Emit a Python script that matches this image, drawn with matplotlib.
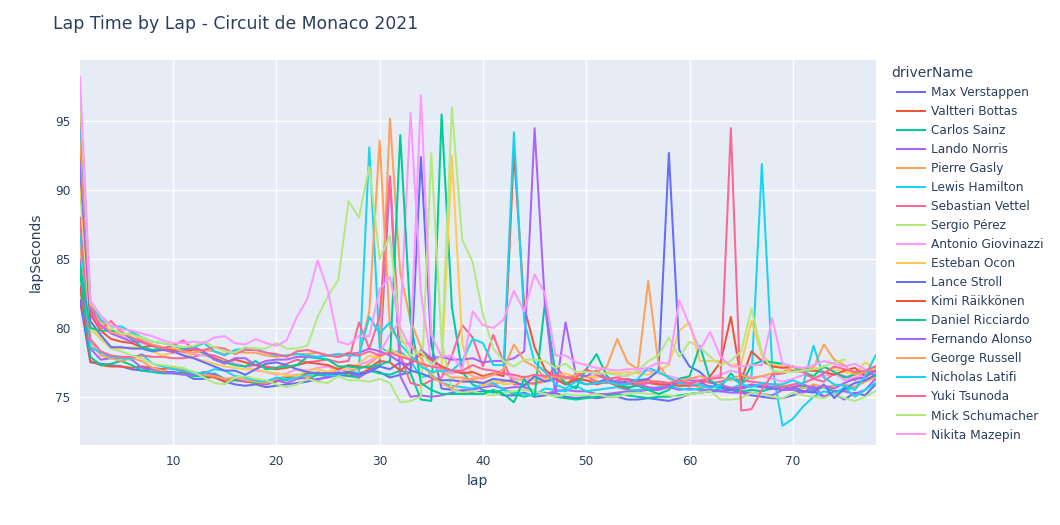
import matplotlib
matplotlib.use("Agg")
import matplotlib.pyplot as plt

# lap times in seconds, one row per ten laps
verstappen = [82.0,77.5,77.4,77.3,77.2,77.0,76.9,77.0,76.8,76.8,
    76.7,76.3,76.3,76.5,76.1,75.9,75.8,75.9,75.7,75.8,
    75.9,76.0,76.1,76.3,76.4,76.6,76.5,76.7,76.9,76.8,
    76.4,76.6,76.8,92.4,78.8,75.6,75.5,75.4,75.3,75.4,
    75.4,75.1,75.1,75.3,75.0,75.1,75.3,75.0,74.9,75.0,
    74.9,75.0,75.0,74.8,74.8,74.9,74.8,74.7,74.9,75.2,
    75.3,75.4,75.4,75.5,75.3,75.1,75.0,74.9,74.9,75.1,
    75.4,75.4,75.0,75.2,74.8,75.3,75.1,75.9]
bottas = [83.0,77.6,77.3,77.2,77.2,77.1,77.2,77.1,77.0,77.1,
    76.8,76.6,76.5,76.4,76.1,76.2,76.1,76.0,75.9,76.1,
    76.4,76.5,76.7,76.6,76.8,76.6,76.7,76.6,77.0,77.3]
sainz = [84.0,77.9,77.3,77.4,77.6,77.3,76.9,76.8,76.7,76.7,
    76.7,76.5,76.5,76.7,76.3,76.2,76.2,76.0,76.1,76.3,
    76.2,76.5,76.3,76.6,76.5,76.8,76.5,76.4,76.9,76.7,
    76.6,76.9,76.7,74.8,74.7,95.5,81.5,76.8,75.9,75.5,
    75.3,75.5,75.2,75.0,75.2,75.3,75.0,74.9,74.8,74.9,
    75.0,75.1,75.2,75.1,75.0,74.9,75.0,75.0,75.1,75.2,
    75.3,75.4,75.6,75.5,75.4,75.5,75.4,75.6,75.7,75.6,
    75.8,75.5,75.7,75.4,75.5,75.7,76.2,76.4]
norris = [85.0,78.5,77.7,77.8,77.8,77.7,77.1,77.0,76.8,76.7,
    76.6,76.6,76.8,76.6,76.3,76.3,76.1,76.2,75.9,76.2,
    76.0,76.3,76.4,76.2,76.5,76.6,76.9,76.4,76.9,77.3,
    91.0,76.5,75.0,75.1,75.0,75.1,75.3,75.5,75.5,75.7,
    75.8,75.6,75.7,75.7,75.4,75.2,75.4,75.5,75.4,75.4,
    75.2,75.2,75.3,75.4,75.4,75.5,75.5,75.7,75.5,75.6,
    75.5,75.5,75.4,75.3,75.3,75.3,75.2,75.1,75.5,75.5,
    75.3,75.8,75.0,75.4,75.4,75.2,75.5,76.3]
gasly = [86.0,79.0,78.0,77.8,77.6,77.8,77.6,77.1,76.9,77.1,
    77.0,76.8,76.6,76.5,76.3,76.4,76.2,76.1,76.0,76.3,
    76.5,76.6,76.4,76.8,76.6,77.0,76.9,77.0,77.4,78.0,
    95.2,84.0,80.5,78.6,77.4,76.8,76.4,76.4,76.2,76.0,
    75.9,76.1,76.3,76.2,75.9,76.1,76.4,76.0,76.3,76.2,
    76.1,76.2,76.0,75.9,76.0,76.2,76.1,76.0,75.9,75.9,
    75.7,75.7,75.8,75.7,75.6,75.8,75.9,75.7,75.8,75.8,
    75.6,75.9,75.7,75.8,75.9,75.7,76.1,76.4]
hamilton = [87.0,78.6,78.2,77.9,77.8,77.8,78.1,77.4,77.2,77.0,
    76.9,76.7,76.7,77.0,76.9,76.5,76.4,76.2,76.1,76.4,
    76.3,76.4,76.6,76.7,76.6,76.5,76.9,76.7,93.1,78.6,
    78.2,78.3,77.6,76.4,76.6,76.0,75.8,75.7,75.6,75.9,
    76.0,75.5,75.3,75.2,75.1,75.6,75.5,75.4,75.8,75.4,
    75.5,75.6,75.7,75.5,75.5,75.6,75.7,75.8,75.6,75.5,
    75.6,75.8,75.6,75.6,75.9,76.5,91.9,77.2,72.9,73.4,
    74.3,75.0,75.4,75.2,75.7,75.0,75.5,76.0]
vettel = [88.0,79.2,78.3,78.0,77.9,77.9,78.0,77.9,77.9,77.8,
    77.8,77.9,78.1,78.0,77.7,77.4,77.2,77.3,77.2,77.1,
    77.4,77.7,77.5,77.6,77.7,77.5,77.6,80.4,78.5,80.8,
    91.0,78.0,76.0,75.8,76.2,76.4,78.0,80.2,79.3,77.2,
    79.5,77.5,75.9,75.9,76.0,76.2,77.2,76.4,76.2,76.5,
    76.1,76.0,76.2,76.3,76.1,76.2,75.9,75.9,76.0,76.0,
    76.2,76.0,76.1,76.3,76.2,76.1,76.0,75.9,75.7,75.9,
    76.0,76.3,76.1,76.7,76.5,76.2,76.8,76.9]
perez = [90.0,79.9,79.2,78.5,78.3,78.0,77.8,77.4,77.3,77.2,
    77.1,76.8,76.4,76.0,75.9,76.4,76.5,76.3,76.2,75.9,
    75.7,75.9,76.3,76.1,76.0,76.5,76.2,76.2,76.1,76.3,
    76.0,74.6,74.7,75.0,92.7,79.0,75.5,75.3,75.4,75.2,
    75.1,75.3,75.4,75.5,75.4,75.2,75.0,75.2,75.1,75.1,
    75.2,75.0,75.0,75.2,75.3,75.2,75.2,75.1,75.0,75.2,
    75.3,75.4,74.8,74.8,74.9,75.3,75.2,75.0,74.9,75.3,
    75.1,75.0,74.9,75.2,74.9,74.7,75.0,75.4]
giovinazzi = [95.0,81.0,80.2,79.7,79.4,79.2,78.9,78.7,78.5,78.4,
    78.2,78.1,78.0,77.8,77.5,77.4,77.2,76.9,76.8,76.6,
    76.7,77.0,76.9,77.1,77.2,76.9,77.0,77.3,77.6,78.2,
    79.5,80.5,95.6,82.5,77.5,76.9,76.7,76.9,76.5,76.3,
    76.6,76.7,76.4,76.2,76.3,76.5,76.7,76.4,76.6,76.5,
    76.5,76.3,76.4,76.6,76.8,76.9,76.7,76.5,76.3,76.4,
    76.2,76.4,76.6,76.9,76.7,76.4,76.5,76.3,76.1,76.3,
    76.6,76.4,76.5,76.7,76.2,76.4,76.6,76.7]
ocon = [91.0,80.2,79.3,78.6,78.5,78.6,78.5,78.3,78.0,78.2,
    78.4,77.8,77.6,77.4,77.2,77.1,77.0,77.0,76.8,76.7,
    76.6,76.5,76.9,77.0,76.8,77.1,76.9,77.4,78.0,77.8,
    78.5,78.0,77.9,77.5,76.6,77.0,92.5,78.9,76.3,75.8,
    76.2,75.9,76.0,76.5,76.2,76.3,76.4,76.7,76.4,76.5,
    76.4,76.8,76.7,76.8,76.7,76.6,76.9,77.3,79.8,80.4,
    77.6,77.6,77.6,77.3,77.4,80.5,78.0,77.4,77.2,76.9,
    77.0,76.9,77.1,77.0,76.8,76.6,77.5,77.0]
stroll = [92.0,80.5,79.5,78.6,78.6,78.5,78.5,78.3,78.4,78.3,
    78.0,77.8,77.5,77.2,76.9,76.9,76.6,77.0,77.4,77.5,
    77.3,77.0,76.8,76.7,76.7,76.7,76.8,76.6,76.8,77.2,
    77.0,77.5,76.9,76.7,76.4,76.2,76.2,76.1,76.1,76.0,
    76.3,76.2,76.1,75.8,76.5,76.1,76.3,75.9,76.2,75.9,
    76.0,76.3,75.9,76.2,76.2,76.3,76.9,92.7,78.4,77.2,
    76.8,76.1,75.7,75.5,75.6,75.8,75.7,75.6,75.5,75.7,
    75.4,75.3,75.9,74.9,75.6,76.0,76.2,76.6]
raikkonen = [93.0,81.0,79.8,79.2,79.0,78.9,78.6,78.7,78.5,78.4,
    78.3,78.4,78.2,77.8,77.5,77.7,77.5,77.3,77.1,77.0,
    77.1,77.3,77.5,77.4,77.3,77.0,77.3,77.2,77.1,77.6,
    77.5,76.9,77.5,78.1,77.7,77.2,76.9,76.7,76.8,76.5,
    76.7,76.5,92.8,81.5,78.6,77.0,76.3,75.9,76.3,76.2,
    75.9,76.1,75.8,75.6,75.9,76.0,75.9,75.9,75.8,75.8,
    75.9,76.5,77.5,80.8,76.2,78.3,77.6,77.2,77.1,77.2,
    76.9,76.9,76.8,76.6,76.9,77.1,76.5,76.9]
ricciardo = [84.5,80.0,79.8,79.8,79.7,79.2,78.6,78.4,78.5,78.7,
    78.5,78.5,78.2,77.7,77.5,77.3,77.2,77.6,77.0,77.1,
    77.2,77.3,77.9,77.8,77.7,77.2,77.2,77.1,77.2,77.3,
    77.6,94.0,80.5,76.0,75.5,75.2,75.2,75.2,75.2,75.2,
    75.5,75.2,74.6,76.3,75.0,81.8,76.8,76.0,75.6,77.0,
    78.1,76.5,75.9,75.7,75.8,75.5,75.2,75.5,76.3,76.5,
    78.7,76.2,75.7,76.7,75.9,77.3,77.6,77.5,77.4,77.2,
    76.8,76.5,77.2,76.8,76.4,76.6,76.9,76.5]
alonso = [92.0,81.3,80.2,79.6,79.3,79.0,79.0,78.7,78.5,78.2,
    78.4,78.6,78.3,77.7,77.4,77.8,77.8,77.3,77.6,77.7,
    77.7,77.9,77.9,77.9,78.0,77.9,78.1,78.2,78.5,78.3,
    78.0,77.5,77.3,78.4,77.8,77.9,77.7,77.7,77.8,77.5,
    77.6,77.6,77.8,78.3,94.5,81.8,75.2,80.4,76.6,76.5,
    76.9,76.3,76.1,76.0,75.9,75.7,75.6,75.8,76.1,76.2,
    76.1,75.7,75.9,75.6,75.7,75.9,75.8,75.7,75.5,75.7,
    75.9,75.6,75.8,75.6,76.0,76.3,76.4,76.9]
russell = [94.0,81.6,80.5,79.7,79.5,79.6,79.1,78.8,78.6,78.5,
    78.3,78.2,78.4,78.3,78.1,78.3,78.2,78.2,78.0,77.9,
    78.0,78.1,78.1,78.2,78.0,78.1,78.0,78.1,81.2,93.6,
    80.0,79.0,78.8,77.8,76.5,76.0,75.6,76.2,76.3,76.4,
    76.6,77.0,78.8,77.6,77.2,76.4,76.5,76.3,76.6,76.9,
    76.8,77.2,79.2,77.5,77.0,83.4,77.3,76.3,76.1,76.3,
    76.5,76.3,76.4,76.2,76.6,76.3,76.5,76.7,76.8,77.2,
    77.0,77.1,78.8,77.7,77.3,76.6,76.8,77.2]
latifi = [95.5,81.9,80.6,80.1,80.1,79.7,79.3,79.0,78.9,78.7,
    78.6,78.6,78.9,78.3,78.0,78.4,78.5,78.5,78.2,78.0,
    78.0,78.1,78.0,77.9,78.0,78.1,78.0,78.0,80.8,79.6,
    80.4,78.8,78.0,77.2,76.8,76.9,76.9,77.6,79.2,78.9,
    77.3,77.3,94.2,80.5,77.5,76.8,75.9,75.6,76.1,75.9,
    76.0,76.1,75.9,75.9,76.3,77.1,76.8,76.4,76.0,75.9,
    75.9,75.6,75.9,76.4,75.9,75.7,76.0,75.9,75.9,76.2,
    75.9,78.7,76.4,75.9,75.8,75.5,76.5,78.0]
tsunoda = [96.5,81.8,79.9,80.5,79.7,79.3,79.0,78.7,78.5,78.7,
    79.1,78.4,78.4,78.6,78.5,78.1,78.4,78.4,78.2,78.1,
    77.9,78.3,78.4,78.2,78.0,77.9,78.2,78.0,78.3,78.0,
    78.2,77.9,77.7,77.4,77.2,77.1,76.9,76.9,77.3,77.0,
    76.9,76.7,76.6,76.4,76.6,76.5,76.6,76.4,76.4,77.0,
    76.6,76.3,76.4,76.2,75.9,76.0,76.1,76.0,76.2,75.9,
    76.2,76.3,76.4,94.5,74.0,74.1,75.5,76.6,76.7,76.9,
    76.8,76.3,76.7,77.2,77.0,76.8,76.9,77.2]
schumacher = [97.0,81.8,80.9,80.0,79.6,79.5,79.3,79.0,78.9,78.7,
    78.6,78.7,79.0,78.6,78.3,78.2,78.6,78.5,78.5,78.9,
    78.5,78.5,78.7,80.8,82.3,83.5,89.2,88.0,91.7,85.0,
    86.7,79.5,78.0,78.3,77.3,78.0,96.0,86.4,84.8,81.0,
    78.5,77.6,77.2,77.7,77.7,77.6,77.1,77.4,76.8,76.8,
    76.7,76.7,76.6,76.5,76.9,77.6,78.0,79.3,77.9,79.0,
    78.6,77.9,77.3,77.6,78.3,81.4,78.2,76.9,76.8,76.8,
    76.9,77.0,77.2,77.5,77.7]
mazepin = [98.2,82.0,80.9,80.2,79.9,79.8,79.6,79.4,79.1,78.9,
    78.9,79.0,78.9,79.3,79.4,78.9,78.8,79.2,78.9,78.7,
    79.1,80.8,82.1,84.9,82.7,79.0,78.8,79.4,79.4,82.8,
    83.7,80.0,78.5,96.9,79.5,77.9,78.0,77.0,81.2,80.2,
    80.0,80.6,82.7,81.2,83.9,82.5,78.0,78.0,77.5,77.3,
    77.1,77.0,76.9,77.0,77.0,77.1,77.5,77.4,82.0,80.2,
    78.4,79.7,77.9,77.2,77.2,77.3,77.3,80.7,77.4,77.2,
    77.1,77.3,77.6,77.4,77.2,77.4,77.0]

driver_names = ["Max Verstappen", "Valtteri Bottas", "Carlos Sainz", "Lando Norris",
                "Pierre Gasly", "Lewis Hamilton", "Sebastian Vettel", "Sergio Pérez",
                "Antonio Giovinazzi", "Esteban Ocon", "Lance Stroll", "Kimi Räikkönen",
                "Daniel Ricciardo", "Fernando Alonso", "George Russell", "Nicholas Latifi",
                "Yuki Tsunoda", "Mick Schumacher", "Nikita Mazepin"]
driver_laps = [verstappen, bottas, sainz, norris, gasly, hamilton, vettel, perez,
               giovinazzi, ocon, stroll, raikkonen, ricciardo, alonso, russell, latifi,
               tsunoda, schumacher, mazepin]
x_ticks = [10, 20, 30, 40, 50, 60, 70]
y_ticks = [75, 80, 85, 90, 95]

colors = ["#636EFA", "#EF553B", "#00CC96", "#AB63FA", "#FFA15A",
          "#19D3F3", "#FF6692", "#B6E880", "#FF97FF", "#FECB52"]
text_color = "#2a3f5f"
W, H = 1060, 525

plt.rcParams['font.family'] = ['DejaVu Sans']
fig = plt.figure(figsize=(W / 100, H / 100), dpi=100)
ax = fig.add_axes([80 / W, (H - 445) / H, (875.5 - 80) / W, (445 - 60) / H])
ax.set_facecolor("#E5ECF6")

for i, (name, laps) in enumerate(zip(driver_names, driver_laps)):
    ax.plot(range(1, len(laps) + 1), laps, color=colors[i % 10], lw=1.45,
            solid_joinstyle="round", label=name, zorder=3)

ax.set_xlim(1, 78)
ax.set_ylim(71.5, 99.45)
ax.set_xticks(x_ticks)
ax.set_yticks(y_ticks)
ax.grid(True, color="white", lw=1, zorder=1)
ax.set_axisbelow(True)
ax.tick_params(length=0, labelsize=8.7, labelcolor=text_color, pad=7)
for s in ax.spines.values():
    s.set_visible(False)

ax.set_xlabel("lap", fontsize=10, color=text_color, labelpad=4.5)
ax.set_ylabel("lapSeconds", fontsize=10, color=text_color, labelpad=9)
fig.text(53 / W, (H - 24) / H, "Lap Time by Lap - Circuit de Monaco 2021",
         fontsize=12.4, color=text_color, va="center")

# legend title sits further left than the entries
fig.text(891 / W, (H - 73) / H, "driverName", fontsize=10, color=text_color, va="center")
leg = ax.legend(loc="upper left", bbox_to_anchor=(892 / W, (H - 81) / H),
                bbox_transform=fig.transFigure, frameon=False, fontsize=8.7,
                handlelength=2.3, handletextpad=0.55, labelspacing=0.5,
                borderpad=0.4, borderaxespad=0)
for t in leg.get_texts():
    t.set_color(text_color)

fig.savefig("out.png", dpi=100, facecolor="white")
